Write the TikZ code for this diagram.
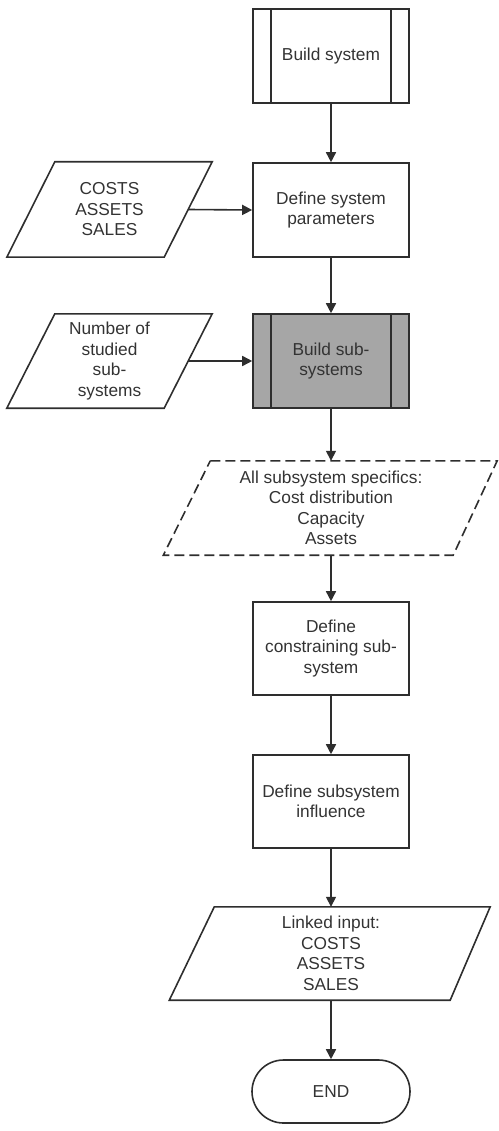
\documentclass[tikz,border=0pt]{standalone}
\usepackage{fontspec}
\setmainfont{Liberation Sans}
\usetikzlibrary{arrows.meta,shapes.misc}
\definecolor{ln}{HTML}{2E2E2E}
\definecolor{tx}{HTML}{333333}
\definecolor{gr}{HTML}{A6A6A6}
\tikzset{
  base/.style={inner sep=0pt, align=center, text=tx, font=\fontsize{17.3}{20.5}\selectfont},
  boxnode/.style={base, draw=ln, line width=1.6pt, rectangle, minimum width=156pt},
  paranode/.style={base, draw=none, rectangle},
  edge/.style={draw=ln, line width=1.6pt},
  arr/.style={edge, -{Triangle[length=10pt,width=10pt]}},
  dashedge/.style={edge, dash pattern=on 10pt off 5pt}
}
\begin{document}
\begin{tikzpicture}[x=1pt,y=-1pt]
\useasboundingbox (0,0) rectangle (498,1131);

% Build system (predefined process)
\node[boxnode, minimum height=94pt] (build) at (331,56) {Build system};
\draw[edge] ([xshift=19pt]build.north west) -- ([xshift=19pt]build.south west);
\draw[edge] ([xshift=-19pt]build.north east) -- ([xshift=-19pt]build.south east);

% Define system parameters
\node[boxnode, minimum height=94pt] (params) at (331,210) {Define system\\parameters};

% COSTS parallelogram
\node[paranode, minimum width=157pt, minimum height=95pt] (costs) at (109.5,209.5) {COSTS\\ASSETS\\SALES};
\draw[edge] ([xshift=24pt]costs.north west) -- ([xshift=24pt]costs.north east)
  -- ([xshift=-24pt]costs.south east) -- ([xshift=-24pt]costs.south west) -- cycle;

% Build sub-systems (grey predefined process)
\node[boxnode, fill=gr, minimum height=94pt] (subsys) at (331,361) {Build sub-\\systems};
\draw[edge] ([xshift=19pt]subsys.north west) -- ([xshift=19pt]subsys.south west);
\draw[edge] ([xshift=-19pt]subsys.north east) -- ([xshift=-19pt]subsys.south east);

% Number of studied sub-systems parallelogram
\node[paranode, minimum width=157pt, minimum height=94pt] (number) at (109.5,361) {Number of\\studied\\sub-\\systems};
\draw[edge] ([xshift=24pt]number.north west) -- ([xshift=24pt]number.north east)
  -- ([xshift=-24pt]number.south east) -- ([xshift=-24pt]number.south west) -- cycle;

% All subsystem specifics (dashed parallelogram)
\node[paranode, minimum width=288pt, minimum height=94pt] (spec) at (331,508) {All subsystem specifics:\\Cost distribution\\Capacity\\Assets};
\draw[dashedge] ([xshift=23.5pt]spec.north west) -- ([xshift=22pt]spec.north east)
  -- ([xshift=-22pt]spec.south east) -- ([xshift=-23.5pt]spec.south west) -- cycle;

% Define constraining sub-system
\node[boxnode, minimum height=93pt] (constr) at (331,648.5) {Define\\constraining sub-\\system};

% Define subsystem influence
\node[boxnode, minimum height=93pt] (infl) at (331,801.5) {Define subsystem\\influence};

% Linked input parallelogram
\node[paranode, minimum width=278pt, minimum height=93pt] (linked) at (331,953.5) {Linked input:\\COSTS\\ASSETS\\SALES};
\draw[edge] ([xshift=22.5pt]linked.north west) -- ([xshift=20pt]linked.north east)
  -- ([xshift=-20pt]linked.south east) -- ([xshift=-22.5pt]linked.south west) -- cycle;

% END terminator
\node[base, draw=ln, line width=1.6pt, rounded rectangle, minimum width=158pt, minimum height=63pt] (endn) at (331,1091.5) {END};

% Connectors
\draw[arr] (build.south) -- (params.north);
\draw[arr] (costs.east) -- (params.west);
\draw[arr] (params.south) -- (subsys.north);
\draw[arr] (number.east) -- (subsys.west);
\draw[arr] (subsys.south) -- (spec.north);
\draw[arr] (spec.south) -- (constr.north);
\draw[arr] (constr.south) -- (infl.north);
\draw[arr] (infl.south) -- (linked.north);
\draw[arr] (linked.south) -- (endn.north);
\end{tikzpicture}
\end{document}
